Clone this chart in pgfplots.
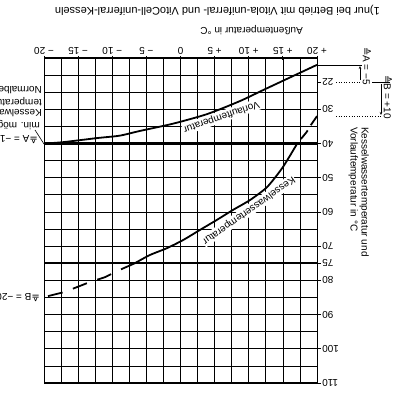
\documentclass[border=0pt]{standalone}
\usepackage{fontspec}
\setmainfont{Liberation Sans}
\newfontfamily\dejavu{DejaVu Sans}
\usepackage{pgfplots}
\pgfplotsset{compat=1.18}
\usetikzlibrary{calc,arrows.meta}
\begin{document}
\begin{tikzpicture}
\begin{axis}[
  name=ax,
  scale only axis, width=273pt, height=325pt,
  xmin=-20, xmax=20, ymin=15, ymax=110,
  y dir=reverse,
  axis line style={line width=1pt},
  xtick={-20,-15,...,20},
  xticklabels={− 20,− 15,− 10,− 5,0,+ 5,+ 10,+ 15,+ 20},
  minor xtick={-17.5,-12.5,...,17.5},
  ytick={22,30,40,50,60,70,75,80,90,100,110},
  yticklabels={22,30,40,50,60,70,75,80,90,100,110},
  minor ytick={15,20,...,110},
  xmajorgrids, xminorgrids, yminorgrids, ymajorgrids=false,
  major grid style={black, line width=0.7pt},
  minor grid style={black, line width=0.7pt},
  minor tick length=0pt,
  major tick length=4pt,
  tick style={black, line width=0.8pt},
  xticklabel pos=upper, xtick pos=upper,
  yticklabel pos=upper, ytick pos=upper,
  xtick align=center, ytick align=outside,
  xticklabel style={rotate=180, anchor=north, inner sep=1pt, font=\fontsize{10}{12}\selectfont},
  yticklabel style={rotate=180, anchor=east, inner sep=1pt, font=\fontsize{10}{12}\selectfont},
]
% thick limit lines
\addplot[black, line width=2.2pt] coordinates {(-20,40) (20,40)};
\addplot[black, line width=2.2pt] coordinates {(-20,75) (20,75)};
% Vorlauftemperatur
\addplot[black, line width=1.8pt, smooth, tension=0.4] coordinates {
(20,17.0) (12.4,24.1) (8.7,27.6) (3.9,31.4) (-1.1,34.2) (-5.9,36.3) (-8.9,37.7) (-12.2,38.4) (-17.2,39.6) (-20,40.0)};
% Kesselwassertemperatur
\addplot[black, line width=1.8pt, dash pattern=on 11pt off 6pt] coordinates {
(20,32.0) (19.1,34.6) (18.5,36.6) (17.1,40.0)};
\addplot[black, line width=1.8pt, smooth, tension=0.4] coordinates {
(17.1,40.0) (15.0,46.9) (12.7,52.7) (10.2,56.5) (7.7,59.4) (5.35,62.3) (2.9,65.2) (0.4,68.2) (-2.0,70.6) (-4.5,72.6) (-6.7,75.0)};
\addplot[black, line width=1.8pt, dash pattern=on 15pt off 11pt] coordinates {
(-6.7,75.0) (-9.3,77.3) (-11.1,79.1) (-13.3,80.5) (-15.2,82.0) (-17.2,83.5) (-20,84.9)};
\node[rotate=199, fill=white, inner sep=1pt, font=\fontsize{10}{12}\selectfont] at (axis cs:6.0,32.2) {Vorlauftemperatur};
\node[rotate=215, fill=white, inner sep=1pt, font=\fontsize{10}{12}\selectfont] at (axis cs:10.0,59.6) {Kesselwassertemperatur};
\coordinate (TL) at (axis cs:-20,15);
\end{axis}
\begin{scope}[shift={(TL)}, x=1pt, y=-1pt]
  \begin{scope}[font=\fontsize{10}{12}\selectfont]
  % top titles
  \node[rotate=180, anchor=base west, inner sep=0pt, font=\fontsize{11}{13}\selectfont] at (336,-50) {1)nur bei Betrieb mit Vitola-uniferral- und VitoCell-uniferral-Kesseln};
  \node[rotate=180, anchor=base west, inner sep=0pt] at (259,-30) {Außentemperatur in °C};
  % right axis title
  \node[rotate=-90, anchor=north west, align=left, inner sep=0pt, font=\fontsize{10}{11}\selectfont] at (325,69) {Kesselwassertemperatur und\\Vorlauftemperatur in °C};
  % brackets
  \draw[line width=0.8pt] (273,7) -- (318,7);
  \draw[line width=0.6pt, dotted] (292,24) -- (318,24);
  \draw[line width=0.8pt] (328,24) -- (346,24);
  \draw[line width=0.6pt, dotted] (292,58) -- (338,58);
  \draw[line width=0.7pt, -{Stealth[length=3pt,width=2.5pt]}] (316,22) -- (316,8);
  \draw[line width=0.7pt, -{Stealth[length=3pt,width=2.5pt]}] (337,26) -- (337,57);
  \node[rotate=-90, inner sep=0pt, font=\fontsize{10}{12}\selectfont] at (323,8) {{\dejavu ≙}A = −5};
  \node[rotate=-90, inner sep=0pt, font=\fontsize{10}{12}\selectfont] at (344,39) {{\dejavu ≙}B = +10};
  % left cut-off notes
  \node[rotate=180, anchor=west, inner sep=0pt] at (-2,32) {Normalbetrieb};
  \node[rotate=180, anchor=west, inner sep=0pt] at (-2,44) {temperatur bei};
  \node[rotate=180, anchor=west, inner sep=0pt] at (-2,55) {Kesselwasser-};
  \node[rotate=180, anchor=west, inner sep=0pt] at (-4,67) {min. mögliche};
  \node[rotate=180, anchor=west, inner sep=0pt] at (-6,82) {{\dejavu ≙}A = −10};
  \node[rotate=180, anchor=west, inner sep=0pt] at (-4,240) {{\dejavu ≙}B = −20};
  \draw[line width=0.6pt] (-9,72) -- (0,86);
  \end{scope}
  \pgfresetboundingbox
  \path[use as bounding box] (-44,-58) rectangle (358,335);
\end{scope}
\end{tikzpicture}
\end{document}
